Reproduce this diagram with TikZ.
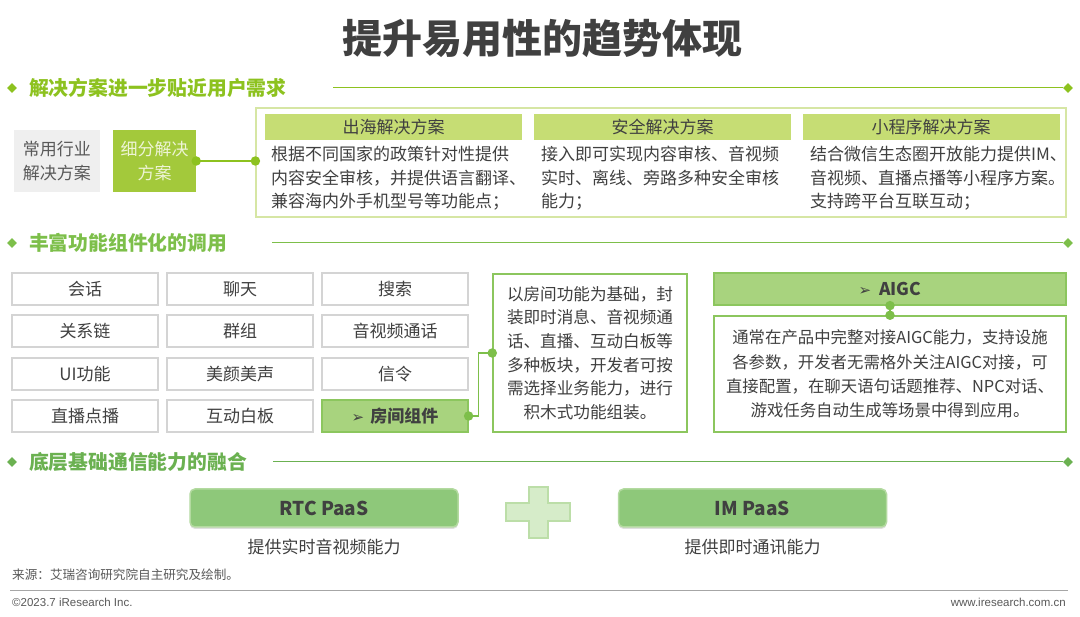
\documentclass[tikz,border=0pt]{standalone}
\usepackage{fontspec}
\setmainfont{Noto Sans CJK SC}
\newfontfamily\dejavu{DejaVu Sans}
\newfontfamily\arial{Liberation Sans}
\usetikzlibrary{shapes.geometric,shadows}
\definecolor{txt}{HTML}{404040}
\definecolor{txtg}{HTML}{595959}
\definecolor{gA}{HTML}{8DC21F}
\definecolor{gAbar}{HTML}{C6DD74}
\definecolor{gAbox}{HTML}{A3C93B}
\definecolor{gAborder}{HTML}{D6E6A4}
\definecolor{gAtext}{HTML}{EEF4D6}
\definecolor{gB}{HTML}{7DBF4A}
\definecolor{gBfill}{HTML}{A8D37E}
\definecolor{gBdraw}{HTML}{8CC65E}
\definecolor{gC}{HTML}{6BB151}
\definecolor{gCfill}{HTML}{8EC87A}
\definecolor{gCdraw}{HTML}{B3DAA0}
\definecolor{plusfill}{HTML}{D6ECC9}
\definecolor{plusdraw}{HTML}{BCDEA8}
\definecolor{grayfill}{HTML}{EFEFEF}
\definecolor{cellborder}{HTML}{D4D4D4}
\tikzset{
  secdiamond/.style={diamond, fill=#1, minimum size=10, inner sep=0},
  sectitle/.style={anchor=west, inner sep=0, text=#1, font=\bfseries\fontsize{19.8}{20}\selectfont},
  bartitle/.style={fill=gAbar, minimum width=257, minimum height=26, inner sep=0, text=txt, font=\fontsize{17}{20}\selectfont},
  bodytext/.style={anchor=north west, inner sep=0, align=left, text=txt, font=\fontsize{17}{23.5}\selectfont},
  cell/.style={draw=cellborder, line width=1.2, fill=white, minimum width=146, minimum height=32, inner sep=0, text=txt, font=\fontsize{17}{20}\selectfont},
  gdot/.style={circle, fill=#1, minimum size=9.5, inner sep=0},
  paas/.style={fill=gCfill, draw=gCdraw, line width=1.5, rounded corners=5, minimum width=268, minimum height=38, inner sep=0, text=txt, font=\bfseries\fontsize{19}{20}\selectfont, drop shadow={shadow xshift=0pt, shadow yshift=-2pt, opacity=0.25}},
}
\begin{document}
\begin{tikzpicture}[x=1pt, y=-1pt]
\useasboundingbox (0,0) rectangle (1080,617);
\fill[white] (0,0) rectangle (1080,617);

% title
\node[text=txt, font=\bfseries\fontsize{40}{42}\selectfont, inner sep=0] (title) at (542,38) {提升易用性的趋势体现};

% ===== section 1 =====
\node[secdiamond=gA] (d1) at (12,88) {};
\node[sectitle=gA] (h1) at (29,88) {解决方案进一步贴近用户需求};
\coordinate (l1s) at (333,88);
\node[secdiamond=gA] (e1) at (1068,88) {};
\draw[gA, line width=1] (l1s) -- (e1);

\node[fill=grayfill, minimum width=86, minimum height=62, inner sep=0, align=center, text=txtg, font=\fontsize{17}{24}\selectfont] (common) at (57,161) {常用行业\\解决方案};
\node[fill=gAbox, minimum width=83, minimum height=62, inner sep=0, align=center, text=gAtext, font=\fontsize{17}{24}\selectfont] (seg) at (154.5,161) {细分解决\\方案};
\node[draw=gAborder, line width=1.2, minimum width=810, minimum height=109, inner sep=0] (big) at (661,162.5) {};
\draw[gA, line width=1.2] (seg.east) -- (seg.east -| big.west);
\node[gdot=gA] (s1) at (seg.east) {};
\node[gdot=gA] (s2) at (seg.east -| big.west) {};

\node[bartitle] (b1) at (393.5,127) {出海解决方案};
\node[bartitle] (b2) at (662.5,127) {安全解决方案};
\node[bartitle] (b3) at (931,127) {小程序解决方案};
\node[bodytext] (t1) at (271,146) {根据不同国家的政策针对性提供\\内容安全审核，并提供语言翻译、\\兼容海内外手机型号等功能点；};
\node[bodytext] (t2) at (541,146) {接入即可实现内容审核、音视频\\实时、离线、旁路多种安全审核\\能力；};
\node[bodytext] (t3) at (810,146) {结合微信生态圈开放能力提供IM、\\音视频、直播点播等小程序方案。\\支持跨平台互联互动；};

% ===== section 2 =====
\node[secdiamond=gB] (d2) at (12,243) {};
\node[sectitle=gB] (h2) at (29,243) {丰富功能组件化的调用};
\coordinate (l2s) at (272,243);
\node[secdiamond=gB] (e2) at (1068,243) {};
\draw[gB, line width=1] (l2s) -- (e2);

\node[cell] (c11) at (85,289) {会话};
\node[cell] (c12) at (240,289) {聊天};
\node[cell] (c13) at (395,289) {搜索};
\node[cell] (c21) at (85,331) {关系链};
\node[cell] (c22) at (240,331) {群组};
\node[cell] (c23) at (395,331) {音视频通话};
\node[cell] (c31) at (85,374) {UI功能};
\node[cell] (c32) at (240,374) {美颜美声};
\node[cell] (c33) at (395,374) {信令};
\node[cell] (c41) at (85,416) {直播点播};
\node[cell] (c42) at (240,416) {互动白板};
\node[cell, fill=gBfill, draw=gBdraw, font=\bfseries\fontsize{17}{20}\selectfont] (room) at (395,416) {{\dejavu\mdseries\fontsize{15}{16}\selectfont ➢}\hspace{6pt}房间组件};

\node[draw=gBdraw, line width=1.5, minimum width=194, minimum height=158, inner sep=0, align=center, text=txt, font=\fontsize{16.6}{23.6}\selectfont] (rtext) at (590,353) {以房间功能为基础，封\\装即时消息、音视频通\\话、直播、互动白板等\\多种板块，开发者可按\\需选择业务能力，进行\\积木式功能组装。};
\draw[gB, line width=1.2] (room.east) -- ++(10,0) |- (rtext.west);
\node[gdot=gB] (r1) at (room.east) {};
\node[gdot=gB] (r2) at (rtext.west) {};

\node[fill=gBfill, draw=gBdraw, line width=1.2, minimum width=352, minimum height=32, inner sep=0, text=txt, font=\bfseries\fontsize{17.5}{20}\selectfont] (aigc) at (890,289) {{\dejavu\mdseries\fontsize{15}{16}\selectfont ➢}\hspace{8pt}AIGC};
\node[draw=gBdraw, line width=1.5, minimum width=352, minimum height=116, inner sep=0, align=center, text=txt, font=\fontsize{16.4}{24.3}\selectfont] (atext) at (890,374) {通常在产品中完整对接AIGC能力，支持设施\\各参数，开发者无需格外关注AIGC对接，可\\直接配置，在聊天语句话题推荐、NPC对话、\\游戏任务自动生成等场景中得到应用。};
\draw[gB, line width=1.2] (aigc.south) -- (atext.north);
\node[gdot=gB] (a1) at (aigc.south) {};
\node[gdot=gB] (a2) at (atext.north) {};

% ===== section 3 =====
\node[secdiamond=gC] (d3) at (12,462) {};
\node[sectitle=gC] (h3) at (29,462) {底层基础通信能力的融合};
\coordinate (l3s) at (273,462);
\node[secdiamond=gC] (e3) at (1068,462) {};
\draw[gC, line width=1] (l3s) -- (e3);

\node[paas] (rtc) at (324,508) {RTC PaaS};
\node[paas] (im) at (752.5,508) {IM PaaS};
\fill[plusfill, draw=plusdraw, line width=1.5]
  (529,487) -- (548,487) -- (548,503) -- (570,503) -- (570,521) -- (548,521) -- (548,538)
  -- (529,538) -- (529,521) -- (506,521) -- (506,503) -- (529,503) -- cycle;
\node[text=txt, font=\fontsize{17}{20}\selectfont, inner sep=0] (rtcsub) at (324,547) {提供实时音视频能力};
\node[text=txt, font=\fontsize{17}{20}\selectfont, inner sep=0] (imsub) at (752.5,547) {提供即时通讯能力};

% footer
\node[anchor=west, inner sep=0, text=txtg, font=\fontsize{12.6}{14}\selectfont] (src) at (12,575) {来源：艾瑞咨询研究院自主研究及绘制。};
\coordinate (fl) at (10,590);
\coordinate (fr) at (1068,590);
\draw[gray!70, line width=0.8] (fl) -- (fr);
\node[anchor=west, inner sep=0, text=txtg, font=\arial\fontsize{11.5}{13}\selectfont] (copy) at (12,602) {©2023.7 iResearch Inc.};
\node[anchor=east, inner sep=0, text=txtg, font=\arial\fontsize{11.5}{13}\selectfont] (web) at (1066,602) {www.iresearch.com.cn};
\end{tikzpicture}
\end{document}
